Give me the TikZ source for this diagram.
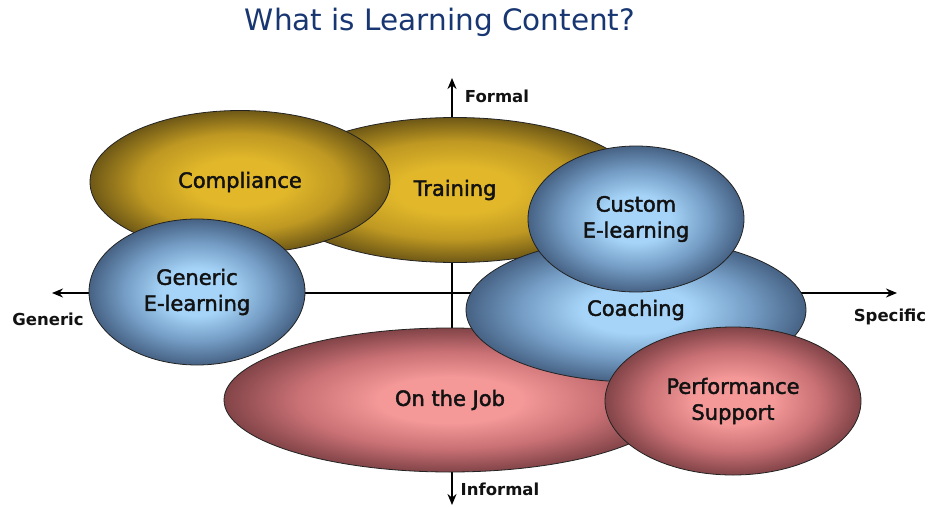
\documentclass[tikz,border=0pt]{standalone}
\usepackage{fontspec}
\setmainfont{DejaVu Sans}
\newfontfamily\blobfont{DejaVu Sans}[FakeBold=2]
\usetikzlibrary{arrows.meta,shapes.geometric}

\definecolor{titleblue}{RGB}{24,54,114}
\definecolor{goldin}{RGB}{226,184,42}
\definecolor{goldmid}{RGB}{190,152,34}
\definecolor{goldout}{RGB}{110,88,22}
\definecolor{bluein}{RGB}{166,212,248}
\definecolor{bluemid}{RGB}{116,156,196}
\definecolor{blueout}{RGB}{70,98,132}
\definecolor{redin}{RGB}{244,152,152}
\definecolor{redmid}{RGB}{200,112,116}
\definecolor{redout}{RGB}{130,68,72}
\definecolor{rimline}{RGB}{35,35,35}
\definecolor{labeltext}{RGB}{18,18,18}

\pgfdeclareradialshading{goldball}{\pgfpoint{0bp}{0bp}}{%
  color(0bp)=(goldin); color(8bp)=(goldin); color(17bp)=(goldmid);
  color(25bp)=(goldout); color(50bp)=(goldout)}
\pgfdeclareradialshading{blueball}{\pgfpoint{0bp}{0bp}}{%
  color(0bp)=(bluein); color(8bp)=(bluein); color(17bp)=(bluemid);
  color(25bp)=(blueout); color(50bp)=(blueout)}
\pgfdeclareradialshading{redball}{\pgfpoint{0bp}{0bp}}{%
  color(0bp)=(redin); color(8bp)=(redin); color(17bp)=(redmid);
  color(25bp)=(redout); color(50bp)=(redout)}

\tikzset{
  blob/.style={ellipse, draw=rimline, line width=0.8pt, inner sep=0pt,
    align=center, text=labeltext, font=\blobfont\fontsize{21}{26}\selectfont},
  goldblob/.style={blob, shading=goldball},
  blueblob/.style={blob, shading=blueball},
  redblob/.style={blob, shading=redball},
  axisline/.style={line width=2.6pt, {Stealth[length=11pt,width=9pt]}-{Stealth[length=11pt,width=9pt]}},
  axislabel/.style={font=\bfseries\fontsize{16.5}{20}\selectfont, text=labeltext, inner sep=0pt}
}

\begin{document}
\begin{tikzpicture}[x=1pt,y=-1pt]
  \useasboundingbox (0,0) rectangle (937,506);

  % title
  \node[text=titleblue, font=\fontsize{29.5}{34}\selectfont, inner sep=0pt] (title) at (440,22) {What is Learning Content?};

  % axes
  \coordinate (west) at (52,293);
  \coordinate (east) at (897,293);
  \coordinate (north) at (452,78);
  \coordinate (south) at (452,505);
  \draw[axisline] (west) -- (east);
  \draw[axisline] (north) -- (south);

  \node[axislabel] (formal) at (497,96) {Formal};
  \node[axislabel] (informal) at (500,489) {Informal};
  \node[axislabel] (generic) at (48,319) {Generic};
  \node[axislabel] (specific) at (890,317) {Specific};

  % clusters, back to front
  \node[goldblob, minimum width=370pt, minimum height=145pt] (training) at (455,190) {Training};
  \node[goldblob, minimum width=300pt, minimum height=143pt] (compliance) at (240,182) {Compliance};
  \node[blueblob, minimum width=216pt, minimum height=146pt] (genericel) at (197,292) {Generic\\E-learning};
  \node[redblob, minimum width=452pt, minimum height=144pt] (onjob) at (450,400) {On the Job};
  \node[blueblob, minimum width=340pt, minimum height=144pt] (coaching) at (636,310) {Coaching};
  \node[blueblob, minimum width=216pt, minimum height=146pt] (customel) at (636,219) {Custom\\E-learning};
  \node[redblob, minimum width=256pt, minimum height=148pt] (perfsupport) at (733,401) {Performance\\Support};
\end{tikzpicture}
\end{document}
